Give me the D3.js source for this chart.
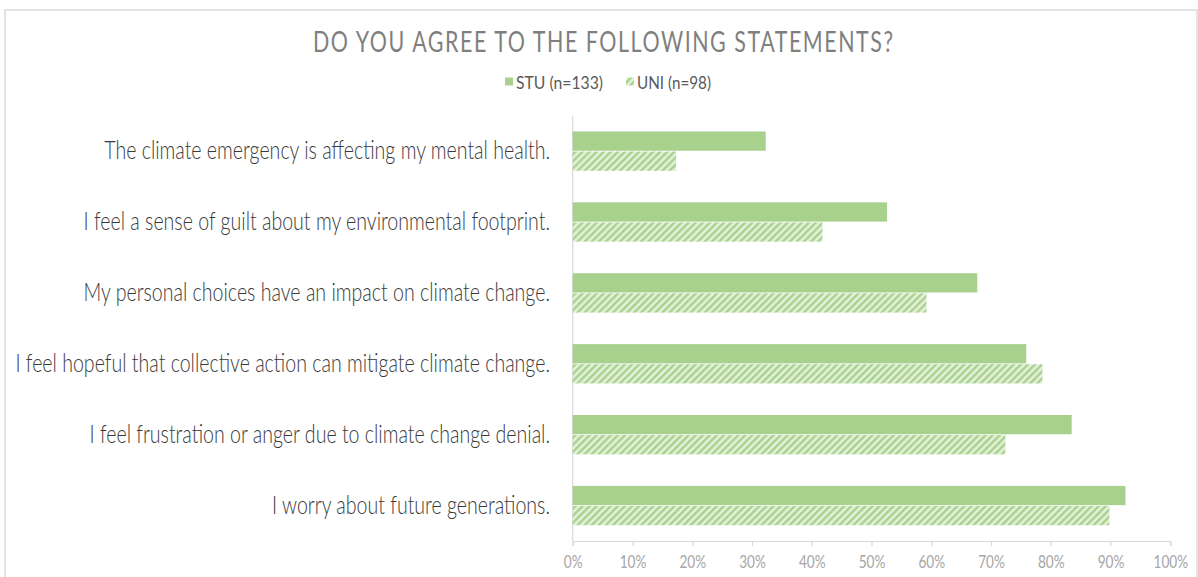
<!DOCTYPE html>
<html><head><meta charset="utf-8">
<script src="https://cdn.jsdelivr.net/npm/d3@7"></script>
<style>
html,body{margin:0;padding:0;background:#fff;}
svg{display:block;}
</style></head>
<body>
<svg id="chart" width="1198" height="577"></svg>
<script>
const categories = [
  "The climate emergency is affecting my mental health.",
  "I feel a sense of guilt about my environmental footprint.",
  "My personal choices have an impact on climate change.",
  "I feel hopeful that collective action can mitigate climate change.",
  "I feel frustration or anger due to climate change denial.",
  "I worry about future generations."
];
const seriesNames = ["STU (n=133)", "UNI (n=98)"];
const stuValues = [32.3, 52.6, 67.7, 75.9, 83.5, 92.5];
const uniValues = [17.3, 41.8, 59.2, 78.6, 72.4, 89.8];
const tickValues = [0,10,20,30,40,50,60,70,80,90,100];
const titleText = "DO YOU AGREE TO THE FOLLOWING STATEMENTS?";

const svg = d3.select("#chart");
const FONT = "Lato, 'Open Sans', sans-serif";
const green = "#a9d18e";

// border
svg.append("rect").attr("x",5).attr("y",10).attr("width",1192).attr("height",620)
  .attr("fill","#fff").attr("stroke","#e3e3e3").attr("stroke-width",2);

// hatch pattern
const defs = svg.append("defs");
const pat = defs.append("pattern").attr("id","hatch").attr("patternUnits","userSpaceOnUse")
  .attr("width",5).attr("height",5).attr("patternTransform","rotate(45)");
pat.append("rect").attr("width",5).attr("height",5).attr("fill","#e4f1da");
pat.append("rect").attr("x",0).attr("y",0).attr("width",2.4).attr("height",5).attr("fill",green);

const x = d3.scaleLinear().domain([0,100]).range([572.7, 1170.3]);
const y0 = d3.scaleBand().domain(categories).range([115.7, 541]).paddingInner(0.445).paddingOuter(0.2225);
const y1 = d3.scaleBand().domain(seriesNames).range([0, y0.bandwidth()]).paddingInner(0.04);

// title (condensed glyphs, wide letter spacing)
const tsx = 0.74;
svg.append("g").attr("transform",`translate(603,52) scale(${tsx},1)`)
  .append("text").attr("x",0).attr("y",0).attr("text-anchor","middle")
  .attr("font-family",FONT).attr("font-weight",400).attr("font-size",29).attr("fill","#7f7f7f")
  .attr("textLength",580/tsx).attr("lengthAdjust","spacing")
  .text(titleText);

// legend
const legItems = [{name:seriesNames[0], x:505, fill:green, w:87},{name:seriesNames[1], x:626, fill:"url(#hatch)", w:74}];
legItems.forEach(d=>{
  svg.append("rect").attr("x",d.x).attr("y",77.5).attr("width",8).attr("height",8).attr("fill",d.fill);
  svg.append("text").attr("x",d.x+11).attr("y",88.5).attr("font-family",FONT).attr("font-size",17)
    .attr("fill","#595959").attr("textLength",d.w).attr("lengthAdjust","spacingAndGlyphs").text(d.name);
});

// vertical axis line
svg.append("line").attr("x1",x(0)).attr("x2",x(0)).attr("y1",115.7).attr("y2",541)
  .attr("stroke","#d9d9d9").attr("stroke-width",1.2);

// x axis
const xAxis = d3.axisBottom(x).tickValues(tickValues).tickFormat(d=>d+"%").tickSizeInner(5).tickSizeOuter(5);
const gx = svg.append("g").attr("transform",`translate(0,541)`).call(xAxis);
gx.select(".domain").attr("stroke","#d9d9d9").attr("stroke-width",1.2);
gx.selectAll(".tick line").attr("stroke","#d9d9d9").attr("stroke-width",1.2);
gx.selectAll(".tick text").attr("font-family",FONT).attr("font-size",17).attr("fill","#a6a6a6")
  .attr("y",0).attr("dy",0).attr("transform","translate(0,26.5) scale(0.8,1)");

// bars
const groups = svg.append("g").selectAll("g").data(categories).join("g")
  .attr("transform",d=>`translate(0,${y0(d)})`);
groups.append("rect").attr("x",x(0)).attr("y",y1(seriesNames[0]))
  .attr("width",(d,i)=>x(stuValues[i])-x(0)).attr("height",y1.bandwidth()).attr("fill",green);
groups.append("rect").attr("x",x(0)).attr("y",y1(seriesNames[1]))
  .attr("width",(d,i)=>x(uniValues[i])-x(0)).attr("height",y1.bandwidth()).attr("fill","url(#hatch)");

// category labels (condensed horizontally)
const labels = svg.append("g").selectAll("text").data(categories).join("text")
  .attr("x",0).attr("y",0)
  .attr("text-anchor","end").attr("font-family",FONT).attr("font-weight",300).attr("font-size",24.5).attr("fill","#3a3a3a")
  .text(d=>d);
const longest = labels.filter((d,i)=>i===3).node().getComputedTextLength();
const sx = 535/longest;
labels.attr("transform",d=>`translate(550,${y0(d)+y0.bandwidth()/2+8}) scale(${sx},1)`);
</script>
</body></html>
